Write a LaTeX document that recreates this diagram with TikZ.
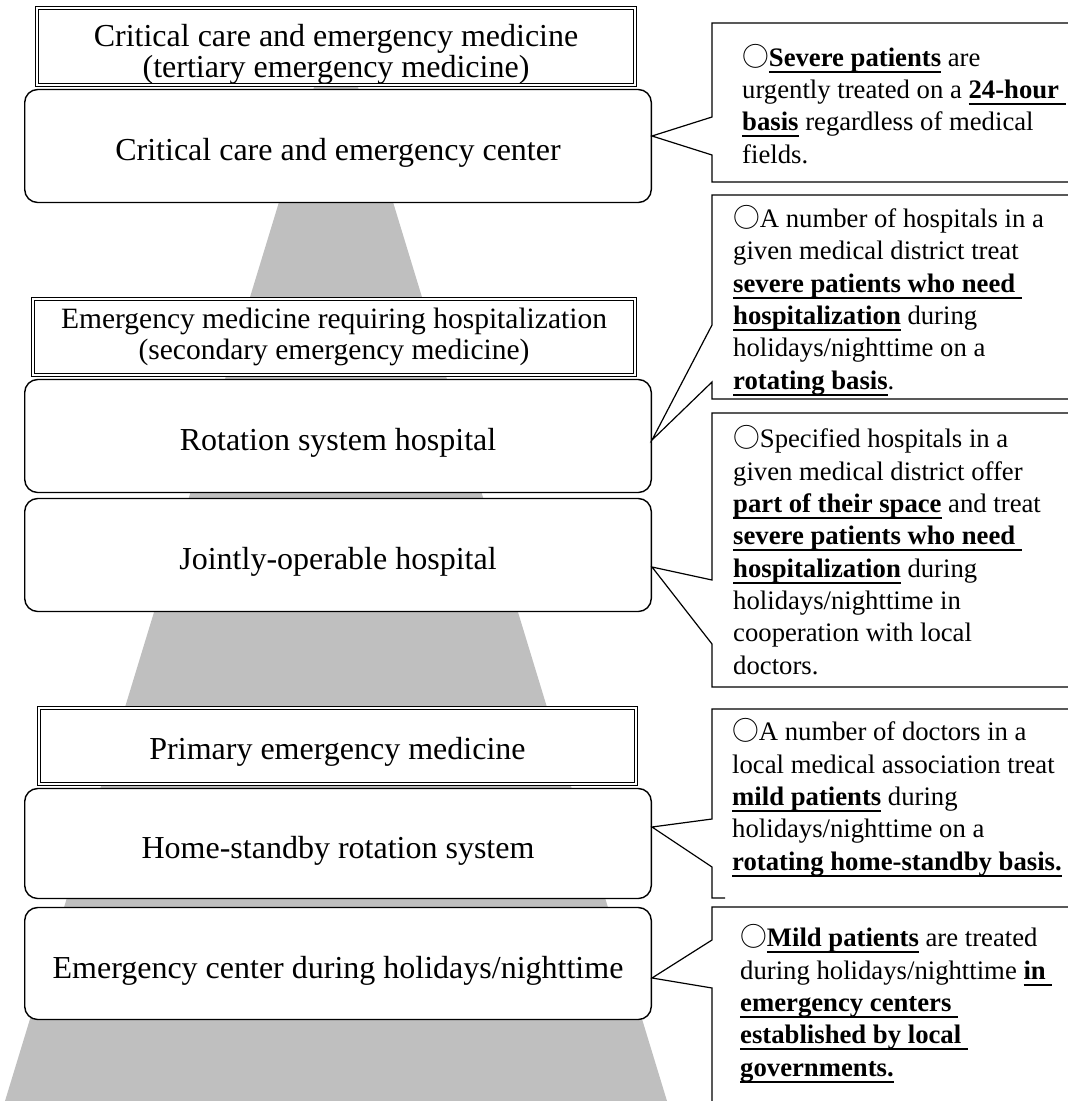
\documentclass[tikz,border=0pt]{standalone}
\usepackage{fontspec}
\setmainfont{Liberation Serif}
\newfontfamily\cjk{Noto Sans CJK JP}
\usetikzlibrary{positioning}
\newcommand\ulb[1]{\setbox0\hbox{\bfseries #1}\rlap{\vrule width\wd0 height-0.17em depth0.245em}\box0\relax}
\newcommand\mk{{\cjk ○}}
\tikzset{%
  levelbox/.style = {shape=rectangle, draw, fill=white, line width=1.1pt,%
                     double=white, double distance=1.8pt, align=center,%
                     inner sep=0pt, font=\fontsize{32}{31}\selectfont},%
  unitbox/.style  = {shape=rectangle, rounded corners=13pt, draw, fill=white,%
                     line width=1.4pt, align=center, minimum width=626.6pt,%
                     text height=36pt, text depth=7pt,%
                     font=\fontsize{32}{31}\selectfont},%
  note/.style     = {anchor=base west, align=left, inner sep=0pt,%
                     font=\fontsize{26.7}{32.3}\selectfont},%
  balloon/.style  = {draw, line width=1.2pt, line join=miter}%
}

\begin{document}
\begin{tikzpicture}[x=1pt, y=-1pt]
  \useasboundingbox (0,0) rectangle (1068,1101);
  \clip (0,0) rectangle (1068,1101);
  % pyramid behind the levels
  \fill[gray!50] (336,15) -- (667,1101) -- (5,1101) -- cycle;

  \node[unitbox, minimum height=113pt] (center) at (338,146) {Critical care and emergency center};
  \node[unitbox, minimum height=113pt] (rotation) at (338,436) {Rotation system hospital};
  \node[unitbox, minimum height=113pt] (joint) at (338,555) {Jointly-operable hospital};
  \node[unitbox, minimum height=110pt] (standby) at (338,843.5) {Home-standby rotation system};
  \node[unitbox, minimum height=112pt] (holiday) at (338,963.5) {Emergency center during holidays/nighttime};

  \node[levelbox, minimum width=598pt, minimum height=77pt] (tertiary) at (336,46.5)
    {\rule{0pt}{38pt}Critical care and emergency medicine\\(tertiary emergency medicine)};
  \node[levelbox, minimum width=602pt, minimum height=76pt, font=\fontsize{29.5}{31}\selectfont] (secondary) at (334,337)
    {Emergency medicine requiring hospitalization\\(secondary emergency medicine)};
  \node[levelbox, minimum width=597pt, minimum height=76pt] (primary) at (337.5,746)
    {\rule{0pt}{33pt}Primary emergency medicine};

  \coordinate (tip1) at (center.east |- 0,136);
  \coordinate (tip2) at (rotation.east |- 0,440);
  \coordinate (tip3) at (joint.east |- 0,567);
  \coordinate (tip4) at (standby.east |- 0,827);
  \coordinate (tip5) at (holiday.east |- 0,978);

  \draw[balloon] (1075,23) -- (712,23) -- (712,117) -- (tip1) -- (712,155) -- (712,182) -- (1075,182);
  \draw[balloon] (1075,195) -- (712,195) -- (712,325) -- (tip2) -- (712,382) -- (712,399) -- (1075,399);
  \draw[balloon] (1075,413) -- (712,413) -- (712,580) -- (tip3) -- (712,644) -- (712,687) -- (1075,687);
  \draw[balloon] (1075,709) -- (712,709) -- (712,819) -- (tip4) -- (712,867) -- (712,898) -- (725,898);
  \draw[balloon] (1075,907) -- (712,907) -- (712,940) -- (tip5) -- (712,988) -- (712,1110);

  \node[note] (severe) at (742,163)
    {\mk\ulb{Severe patients} are\\
     urgently treated on a \ulb{24-hour\ }\\
     \ulb{basis} regardless of medical\\
     fields.};
  \node[note] (rotating) at (733,389)
    {\mk A number of hospitals in a\\
     given medical district treat\\
     \ulb{severe patients who need\ }\\
     \ulb{hospitalization} during\\
     holidays/nighttime on a\\
     \ulb{rotating basis}.};
  \node[note] (space) at (733,674)
    {\mk Specified hospitals in a\\
     given medical district offer\\
     \ulb{part of their space} and treat\\
     \ulb{severe patients who need\ }\\
     \ulb{hospitalization} during\\
     holidays/nighttime in\\
     cooperation with local\\
     doctors.};
  \node[note] (mild) at (732,870)
    {\mk A number of doctors in a\\
     local medical association treat\\
     \ulb{mild patients} during\\
     holidays/nighttime on a\\
     \ulb{rotating home-standby basis.}};
  \node[note] (local) at (740,1076)
    {\mk\ulb{Mild patients} are treated\\
     during holidays/nighttime \ulb{in\ }\\
     \ulb{emergency centers\ }\\
     \ulb{established by local\ }\\
     \ulb{governments.}};
\end{tikzpicture}
\end{document}
